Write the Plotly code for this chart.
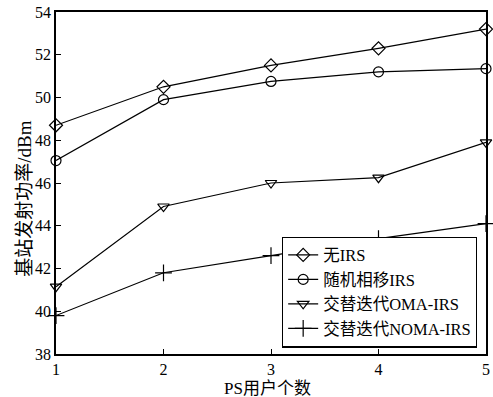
import plotly.graph_objects as go

x_users = [1, 2, 3, 4, 5]
no_irs = [48.7, 50.5, 51.5, 52.3, 53.2]
random_phase = [47.05, 49.9, 50.75, 51.2, 51.35]
alt_oma = [41.15, 44.9, 46.0, 46.25, 47.9]
alt_noma = [39.8, 41.8, 42.6, 43.4, 44.1]

names = ["无IRS", "随机相移IRS", "交替迭代OMA-IRS", "交替迭代NOMA-IRS"]
series = [no_irs, random_phase, alt_oma, alt_noma]
symbols = ["diamond-open", "circle-open", "triangle-down-open", "cross-thin-open"]
sizes = [10, 10, 10, 12]

FONT = "Liberation Serif, Noto Sans CJK SC"

fig = go.Figure()
for n, s, sym, sz in zip(names, series, symbols, sizes):
    fig.add_trace(go.Scatter(
        x=x_users, y=s, name=n, mode="lines+markers",
        line=dict(color="black", width=1.2),
        marker=dict(symbol=sym, size=sz, color="black",
                    line=dict(color="black", width=1.2)),
        cliponaxis=False,
    ))

fig.update_layout(
    width=493, height=397,
    margin=dict(l=56, r=3, t=12, b=43),
    paper_bgcolor="white", plot_bgcolor="white",
    font=dict(family=FONT, size=16, color="black"),
    showlegend=True,
    legend=dict(
        x=0.979, y=0.019, xanchor="right", yanchor="bottom",
        bgcolor="white", bordercolor="black", borderwidth=1.2,
        font=dict(family=FONT, size=16.5, color="black"),
        tracegroupgap=0, itemwidth=30,
    ),
    annotations=[
        dict(text="基站发射功率/dBm", textangle=-90, xref="paper", yref="paper",
             x=-0.075, y=0.453, xanchor="center", yanchor="middle",
             showarrow=False, font=dict(family=FONT, size=19, color="black")),
        dict(text="PS用户个数", xref="paper", yref="paper",
             x=0.493, y=-0.102, xanchor="center", yanchor="middle",
             showarrow=False, font=dict(family=FONT, size=17, color="black")),
    ],
)
fig.update_xaxes(
    range=[1, 5], tickvals=x_users, ticks="inside", ticklen=5,
    tickcolor="black", showline=True, linecolor="black", linewidth=1.5,
    mirror=True, showgrid=False, zeroline=False,
    tickfont=dict(family=FONT, size=16),
)
fig.update_yaxes(
    range=[38, 54], tickvals=[38, 40, 42, 44, 46, 48, 50, 52, 54],
    ticks="inside", ticklen=5, tickcolor="black",
    showline=True, linecolor="black", linewidth=1.5, mirror=True,
    showgrid=False, zeroline=False,
    tickfont=dict(family=FONT, size=16),
)

fig.write_html(
    "out.html",
    config={"displayModeBar": False},
    post_script="document.body.style.margin='0px';document.body.style.overflow='hidden';",
)
